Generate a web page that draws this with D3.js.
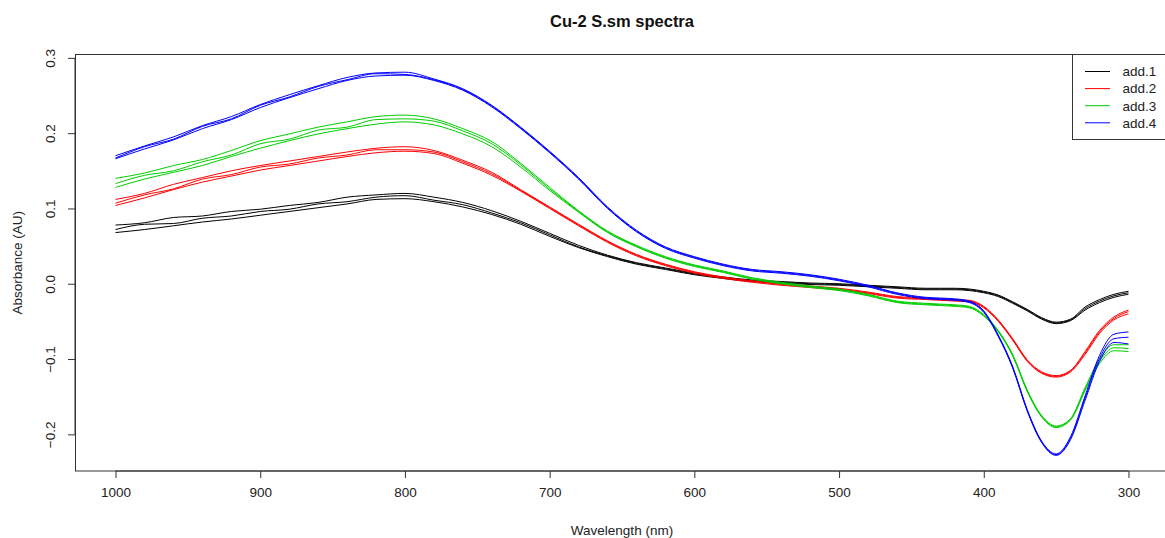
<!DOCTYPE html>
<html>
<head>
<meta charset="utf-8">
<script src="https://cdn.jsdelivr.net/npm/d3@7"></script>
<style>
  body { margin: 0; background: #fff; }
  svg { display: block; font-family: 'Liberation Sans', Arial, sans-serif; }
</style>
</head>
<body>
<div id="chart"></div>
<script>
// wavelength grid (nm), shared by all replicates
const wavelengths = [1000, 980, 960, 940, 920, 900, 880, 860, 840, 820, 800, 780, 760, 740, 720, 700,
  680, 660, 640, 620, 600, 580, 560, 540, 520, 500, 480, 460, 440,
  430, 420, 410, 400, 390, 380, 370, 360, 350, 340, 330, 320, 310, 300];

// add.1 replicates
const add1a = [0.078, 0.081, 0.088, 0.090, 0.096, 0.099, 0.104, 0.108, 0.115, 0.118, 0.120, 0.115, 0.108, 0.097, 0.083, 0.067,
  0.051, 0.038, 0.028, 0.021, 0.014, 0.009, 0.005, 0.003, 0.001, 0.000, -0.002, -0.004, -0.006,
  -0.006, -0.006, -0.007, -0.010, -0.015, -0.024, -0.034, -0.045, -0.051, -0.047, -0.031, -0.021, -0.014, -0.010];
const add1b = [0.072, 0.079, 0.080, 0.087, 0.090, 0.096, 0.099, 0.106, 0.109, 0.115, 0.117, 0.111, 0.105, 0.094, 0.081, 0.065,
  0.049, 0.037, 0.027, 0.020, 0.013, 0.008, 0.004, 0.002, 0.000, -0.001, -0.003, -0.005, -0.007,
  -0.007, -0.007, -0.008, -0.011, -0.016, -0.025, -0.035, -0.046, -0.052, -0.048, -0.033, -0.023, -0.016, -0.012];
const add1c = [0.068, 0.072, 0.077, 0.082, 0.086, 0.091, 0.096, 0.101, 0.106, 0.112, 0.113, 0.109, 0.102, 0.092, 0.079, 0.063,
  0.048, 0.036, 0.026, 0.019, 0.012, 0.007, 0.003, 0.001, -0.001, -0.002, -0.004, -0.006, -0.008,
  -0.008, -0.008, -0.009, -0.012, -0.017, -0.026, -0.036, -0.047, -0.053, -0.049, -0.035, -0.025, -0.018, -0.014];

// add.2 replicates
const add2a = [0.112, 0.120, 0.132, 0.141, 0.150, 0.157, 0.163, 0.169, 0.175, 0.180, 0.182, 0.177, 0.164, 0.148, 0.125, 0.102,
  0.079, 0.057, 0.039, 0.026, 0.016, 0.009, 0.004, 0.000, -0.003, -0.006, -0.011, -0.017, -0.019,
  -0.020, -0.021, -0.022, -0.030, -0.048, -0.073, -0.101, -0.117, -0.122, -0.115, -0.090, -0.062, -0.044, -0.035];
const add2b = [0.107, 0.118, 0.126, 0.139, 0.145, 0.155, 0.159, 0.167, 0.171, 0.178, 0.178, 0.175, 0.162, 0.146, 0.124, 0.101,
  0.078, 0.056, 0.038, 0.025, 0.015, 0.008, 0.003, -0.001, -0.004, -0.007, -0.012, -0.018, -0.020,
  -0.021, -0.022, -0.023, -0.031, -0.049, -0.074, -0.102, -0.118, -0.123, -0.116, -0.092, -0.064, -0.046, -0.037];
const add2c = [0.104, 0.114, 0.125, 0.135, 0.143, 0.151, 0.157, 0.163, 0.169, 0.174, 0.176, 0.173, 0.160, 0.144, 0.123, 0.100,
  0.077, 0.055, 0.037, 0.024, 0.014, 0.007, 0.002, -0.002, -0.005, -0.008, -0.013, -0.019, -0.021,
  -0.022, -0.023, -0.024, -0.032, -0.050, -0.075, -0.103, -0.119, -0.124, -0.117, -0.094, -0.066, -0.048, -0.040];

// add.3 replicates
const add3a = [0.140, 0.147, 0.157, 0.165, 0.177, 0.190, 0.199, 0.208, 0.215, 0.222, 0.224, 0.219, 0.206, 0.189, 0.160, 0.128,
  0.097, 0.070, 0.051, 0.036, 0.025, 0.017, 0.008, 0.002, -0.003, -0.007, -0.014, -0.023, -0.026,
  -0.027, -0.028, -0.030, -0.041, -0.062, -0.094, -0.141, -0.175, -0.189, -0.179, -0.138, -0.100, -0.081, -0.081];
const add3b = [0.133, 0.144, 0.150, 0.162, 0.171, 0.186, 0.192, 0.204, 0.208, 0.218, 0.219, 0.216, 0.203, 0.186, 0.158, 0.126,
  0.096, 0.069, 0.050, 0.035, 0.024, 0.016, 0.007, 0.001, -0.004, -0.008, -0.015, -0.024, -0.027,
  -0.028, -0.029, -0.031, -0.042, -0.063, -0.095, -0.142, -0.176, -0.190, -0.180, -0.140, -0.103, -0.085, -0.086];
const add3c = [0.128, 0.139, 0.148, 0.157, 0.169, 0.180, 0.190, 0.199, 0.206, 0.212, 0.215, 0.211, 0.199, 0.182, 0.155, 0.124,
  0.095, 0.068, 0.049, 0.034, 0.023, 0.015, 0.006, 0.000, -0.005, -0.009, -0.016, -0.025, -0.028,
  -0.029, -0.030, -0.032, -0.043, -0.064, -0.096, -0.143, -0.177, -0.191, -0.181, -0.142, -0.106, -0.089, -0.090];

// add.4 replicates
const add4a = [0.170, 0.183, 0.195, 0.210, 0.222, 0.238, 0.251, 0.263, 0.274, 0.280, 0.281, 0.272, 0.259, 0.237, 0.208, 0.176,
  0.141, 0.102, 0.071, 0.049, 0.036, 0.026, 0.019, 0.016, 0.012, 0.006, -0.002, -0.012, -0.018,
  -0.019, -0.020, -0.023, -0.036, -0.068, -0.110, -0.167, -0.209, -0.226, -0.203, -0.149, -0.095, -0.067, -0.064];
const add4b = [0.167, 0.182, 0.192, 0.209, 0.219, 0.237, 0.248, 0.262, 0.271, 0.279, 0.278, 0.271, 0.258, 0.236, 0.207, 0.175,
  0.140, 0.101, 0.070, 0.048, 0.035, 0.025, 0.018, 0.015, 0.011, 0.005, -0.003, -0.013, -0.019,
  -0.020, -0.021, -0.024, -0.037, -0.069, -0.111, -0.168, -0.210, -0.227, -0.205, -0.152, -0.099, -0.073, -0.071];
const add4c = [0.166, 0.179, 0.191, 0.206, 0.218, 0.234, 0.247, 0.259, 0.270, 0.276, 0.277, 0.270, 0.257, 0.235, 0.206, 0.174,
  0.139, 0.100, 0.069, 0.047, 0.034, 0.024, 0.017, 0.014, 0.010, 0.004, -0.004, -0.014, -0.020,
  -0.021, -0.022, -0.025, -0.038, -0.070, -0.112, -0.169, -0.211, -0.228, -0.207, -0.155, -0.103, -0.078, -0.080];

const seriesNames = ['add.1', 'add.2', 'add.3', 'add.4'];
const seriesColors = ['#000000', '#FF0000', '#00CD00', '#0000FF'];
const replicates = [[add1a, add1b, add1c], [add2a, add2b, add2c], [add3a, add3b, add3c], [add4a, add4b, add4c]];

const xTicks = [1000, 900, 800, 700, 600, 500, 400, 300];
const yTicks = [-0.2, -0.1, 0.0, 0.1, 0.2, 0.3];

const width = 1165;
const height = 538;
const plot = { left: 75, right: 1169, top: 54.5, bottom: 471 };

const svg = d3
  .select('#chart')
  .append('svg')
  .attr('width', width)
  .attr('height', height);

/**
 * scales: x reversed like the spectrometer plot, padded 4% as in R
 */
const xScale = d3.scaleLinear().domain([1028, 272]).range([plot.left, plot.right]);
const yScale = d3.scaleLinear().domain([-0.2487, 0.3045]).range([plot.bottom, plot.top]);

const line = d3
  .line()
  .x(d => xScale(d[0]))
  .y(d => yScale(d[1]))
  .curve(d3.curveMonotoneX);

const lines = svg.append('g').attr('clip-path', 'url(#clip)');
svg
  .append('clipPath')
  .attr('id', 'clip')
  .append('rect')
  .attr('x', plot.left)
  .attr('y', plot.top)
  .attr('width', plot.right - plot.left)
  .attr('height', plot.bottom - plot.top);

replicates.forEach((reps, i) => {
  reps.forEach(vals => {
    lines
      .append('path')
      .datum(wavelengths.map((w, j) => [w, vals[j]]))
      .attr('fill', 'none')
      .attr('stroke', seriesColors[i])
      .attr('stroke-width', 1)
      .attr('d', line);
  });
});

/**
 * axes
 */
const xAxis = svg
  .append('g')
  .attr('transform', `translate(0,${plot.bottom})`)
  .call(d3.axisBottom(xScale).tickValues(xTicks).tickSize(7).tickPadding(9).tickFormat(d3.format('d')));
xAxis.select('.domain').attr('d', `M${xScale(1000)},0H${xScale(300)}`);

const yAxis = svg
  .append('g')
  .attr('transform', `translate(${plot.left},0)`)
  .call(d3.axisLeft(yScale).tickValues(yTicks).tickSize(7).tickFormat(d3.format('.1f')));
yAxis.select('.domain').attr('d', `M0,${yScale(-0.2)}V${yScale(0.3)}`);
yAxis
  .selectAll('.tick text')
  .attr('x', null)
  .attr('dy', null)
  .attr('text-anchor', 'middle')
  .attr('transform', 'translate(-20,0) rotate(-90)');

svg.selectAll('.tick text').attr('font-size', 13.5).attr('fill', '#222').attr('font-family', 'Liberation Sans, Arial, sans-serif');
svg.selectAll('.tick line, .domain').attr('stroke', '#333');

// plot box
svg
  .append('rect')
  .attr('x', plot.left + 0.5)
  .attr('y', plot.top)
  .attr('width', plot.right - plot.left)
  .attr('height', plot.bottom - plot.top)
  .attr('fill', 'none')
  .attr('stroke', '#333');

/**
 * titles
 */
svg
  .append('text')
  .attr('x', (plot.left + plot.right) / 2)
  .attr('y', 27)
  .attr('text-anchor', 'middle')
  .attr('font-size', 16.5)
  .attr('font-weight', 'bold')
  .attr('fill', '#111')
  .text('Cu-2 S.sm spectra');

svg
  .append('text')
  .attr('x', (plot.left + plot.right) / 2)
  .attr('y', 535)
  .attr('text-anchor', 'middle')
  .attr('font-size', 13.5)
  .attr('fill', '#222')
  .text('Wavelength (nm)');

svg
  .append('text')
  .attr('transform', `translate(22,${(plot.top + plot.bottom) / 2}) rotate(-90)`)
  .attr('text-anchor', 'middle')
  .attr('font-size', 13.5)
  .attr('fill', '#222')
  .text('Absorbance (AU)');

/**
 * legend, top right (runs past the window edge like the original)
 */
const legend = svg.append('g');
legend
  .append('rect')
  .attr('x', 1072.5)
  .attr('y', plot.top)
  .attr('width', plot.right - 1072)
  .attr('height', 85)
  .attr('fill', '#fff')
  .attr('stroke', '#333');

const legendItems = legend
  .selectAll('.item')
  .data(seriesNames)
  .enter()
  .append('g')
  .attr('transform', (d, i) => `translate(0,${71.5 + i * 17.1})`);

legendItems
  .append('line')
  .attr('x1', 1085)
  .attr('x2', 1110)
  .attr('stroke', (d, i) => seriesColors[i])
  .attr('stroke-width', 1);

legendItems
  .append('text')
  .attr('x', 1122.5)
  .attr('y', 4.8)
  .attr('font-size', 13.5)
  .attr('fill', '#222')
  .text(d => d);
</script>
</body>
</html>
